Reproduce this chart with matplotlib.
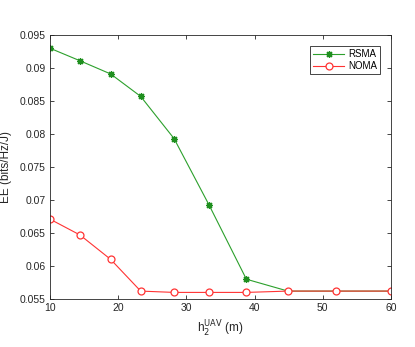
import matplotlib
matplotlib.use("Agg")
import matplotlib.pyplot as plt

# UAV height h2 (m) and energy efficiency (bits/Hz/J)
h2 = [10, 14.4, 18.9, 23.3, 28.2, 33.3, 38.8, 44.9, 51.9, 60]
ee_rsma = [0.0930, 0.0911, 0.0891, 0.0857, 0.0793, 0.0693, 0.0580, 0.0562, 0.0562, 0.0562]
ee_noma = [0.0671, 0.0647, 0.0610, 0.0562, 0.0560, 0.0560, 0.0560, 0.0562, 0.0562, 0.0562]

plt.rcParams['font.family'] = ['Liberation Sans', 'DejaVu Sans']

fig = plt.figure(figsize=(4.15, 3.47), dpi=100)
ax = fig.add_axes([0.1205, 0.1383, 0.8215, 0.7607])

# matlab-style asterisk marker
ax.plot(h2, ee_rsma, color='#2ca02c', marker=(8, 2, 0), markersize=5, linewidth=0.8,
        markeredgewidth=0.9, markeredgecolor='#1f8f1f', label='RSMA')
ax.plot(h2, ee_noma, color='#ff3333', marker='o', markersize=5, linewidth=0.8,
        markerfacecolor='white', markeredgecolor='#ff3333', markeredgewidth=0.9,
        label='NOMA')

ax.set_xlim(10, 60)
ax.set_ylim(0.055, 0.095)
ax.set_xticks([10, 20, 30, 40, 50, 60])
ax.set_yticks([0.055, 0.06, 0.065, 0.07, 0.075, 0.08, 0.085, 0.09, 0.095])
ax.set_yticklabels(['0.055', '0.06', '0.065', '0.07', '0.075', '0.08', '0.085', '0.09', '0.095'])

ax.tick_params(direction='in', top=True, right=True, length=3, width=0.6,
               labelsize=7.5, colors='#262626', pad=3)
for s in ax.spines.values():
    s.set_linewidth(0.6)
    s.set_color('#262626')

ax.set_xlabel(r'h$_2^{\mathrm{UAV}}$ (m)', fontsize=8.5, color='#262626')
ax.set_ylabel('EE (bits/Hz/J)', fontsize=8.5, color='#262626')
ax.yaxis.set_label_coords(-0.112, 0.5)

leg = ax.legend(loc='upper right', fontsize=7, fancybox=False, framealpha=1,
                edgecolor='#262626', borderpad=0.3, handlelength=3.2,
                handletextpad=0.4, labelspacing=0.2, borderaxespad=0,
                bbox_to_anchor=(0.968, 0.958))
leg.get_frame().set_linewidth(0.6)

fig.savefig('out.png', dpi=100)
